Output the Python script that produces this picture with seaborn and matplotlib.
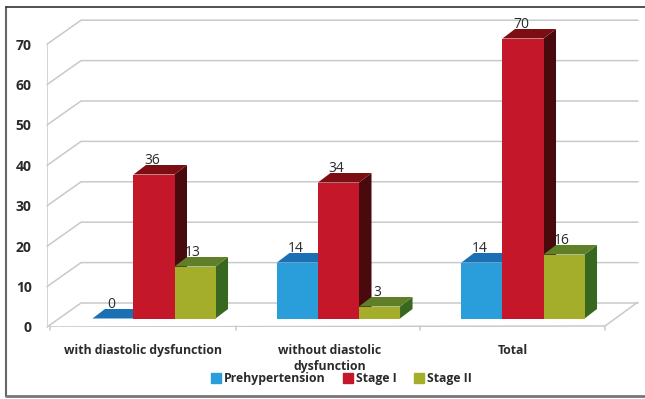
import pandas as pd
import matplotlib
matplotlib.use('Agg')
import matplotlib.pyplot as plt
from matplotlib.patches import Polygon
from matplotlib.lines import Line2D
import seaborn as sns

categories = ['with diastolic dysfunction', 'without diastolic\ndysfunction', 'Total']
stages = ['Prehypertension', 'Stage I', 'Stage II']
prehypertension = [0, 14, 14]
stage_1 = [36, 34, 70]
stage_2 = [13, 3, 16]
y_ticks = [0, 10, 20, 30, 40, 50, 60, 70]

front_colors = ['#2a9ddb', '#c4182a', '#a4ae2b']
top_colors = ['#1b6fb5', '#7c0d12', '#5f8029']
side_colors = ['#14507f', '#480a0d', '#38681f']
text_color = '#2a2a2a'
grid_color = '#c6caca'

sns.set_theme(style='white')
plt.rcParams['font.family'] = ['Open Sans', 'DejaVu Sans']

df = pd.DataFrame({
    'category': categories * 3,
    'stage': [s for s in stages for _ in categories],
    'value': prehypertension + stage_1 + stage_2,
})

W, H = 645, 399
fig = plt.figure(figsize=(W / 100, H / 100), dpi=100, facecolor='white')
left, right, top, bottom = 47, 638, 20, 327
ax = fig.add_axes([left / W, 1 - bottom / H, (right - left) / W, (bottom - top) / H])

sns.barplot(data=df, x='category', y='value', hue='stage', order=categories,
            hue_order=stages, palette=front_colors, width=0.667, gap=0,
            saturation=1, legend=False, ax=ax, linewidth=0)

# pixel scale of the picture: one category is 184.5 px, one unit is 4 px
px_x = 184.5
px_y = 4.0
ax.set_xlim((left - 154) / px_x, (right - 154) / px_x)
ax.set_ylim((318.5 - bottom) / px_y, (318.5 - top) / px_y)


def X(px):
    return (px - 154) / px_x


def Y(px):
    return (318.5 - px) / px_y


def wall_y(v):
    return 327 - v * 4.04


# walls of the fake 3d box
for v in y_ticks:
    py = wall_y(v)
    ax.plot([X(47), X(81), X(638)], [Y(py), Y(py - 24), Y(py - 24)],
            color=grid_color, lw=1.1, zorder=0.5, clip_on=False)
ax.plot([X(47), X(47)], [Y(wall_y(0)), Y(wall_y(70))], color=grid_color, lw=1.1, zorder=0.5)
ax.plot([X(50), X(605), X(638)], [Y(327), Y(326), Y(302)], color=grid_color, lw=1.1, zorder=0.5)
for tick_px in [50, 236, 420, 605]:
    ax.plot([X(tick_px), X(tick_px)], [Y(326), Y(330)], color=grid_color, lw=1.1,
            zorder=0.5, clip_on=False)

# depth of each bar
dx = 12.5 / px_x
dy = 9.5 / px_y
for i, container in enumerate(ax.containers):
    z = 3 + i
    for bar in container.patches:
        x0 = bar.get_x()
        x1 = x0 + bar.get_width()
        h = bar.get_height()
        bar.set_zorder(z + 0.2)
        ax.add_patch(Polygon([(x1, 0), (x1 + dx, dy), (x1 + dx, h + dy), (x1, h)],
                             facecolor=side_colors[i], edgecolor='none', zorder=z))
        ax.add_patch(Polygon([(x0, h), (x0 + dx, h + dy), (x1 + dx, h + dy), (x1, h)],
                             facecolor=top_colors[i], edgecolor='none', zorder=z + 0.1))
        ax.text((x0 + x1) / 2 - 2 / px_x, h + 14 / px_y, f'{int(h)}', ha='center', va='center',
                fontsize=10, color=text_color, zorder=10)

ax.set_xlabel('')
ax.set_ylabel('')
ax.set_yticks([Y(wall_y(v)) for v in y_ticks], [str(v) for v in y_ticks])
ax.set_xticks([X(143), X(330), X(513)], categories)
ax.tick_params(axis='y', length=0, pad=11, labelsize=10, labelcolor=text_color)
ax.tick_params(axis='x', length=0, pad=12, labelsize=8.8, labelcolor=text_color)
for lab in ax.get_yticklabels() + ax.get_xticklabels():
    lab.set_fontweight('bold')
    lab.set_linespacing(1.3)
sns.despine(ax=ax, left=True, bottom=True)

handles = [Line2D([], [], marker='s', linestyle='none', color=c, markersize=6.5) for c in front_colors]
ax.legend(handles, stages, loc='center', bbox_to_anchor=(341 / W, 1 - 378.5 / H),
          bbox_transform=fig.transFigure, ncol=3, frameon=False, handletextpad=0.15,
          columnspacing=1.35, handlelength=1.0, borderpad=0,
          prop={'size': 8.8, 'weight': 'bold'}, labelcolor=text_color)

# frame round the picture
fig.add_artist(Line2D([6 / W, 6 / W], [1 - 6.5 / H, 1 - 396 / H], color='#666666', lw=1.5))
fig.add_artist(Line2D([6 / W, 1], [1 - 6.5 / H, 1 - 6.5 / H], color='#333333', lw=1.2))
fig.add_artist(Line2D([6 / W, 1], [1 - 396 / H, 1 - 396 / H], color='#777777', lw=2))

fig.savefig('out.png', dpi=100)
